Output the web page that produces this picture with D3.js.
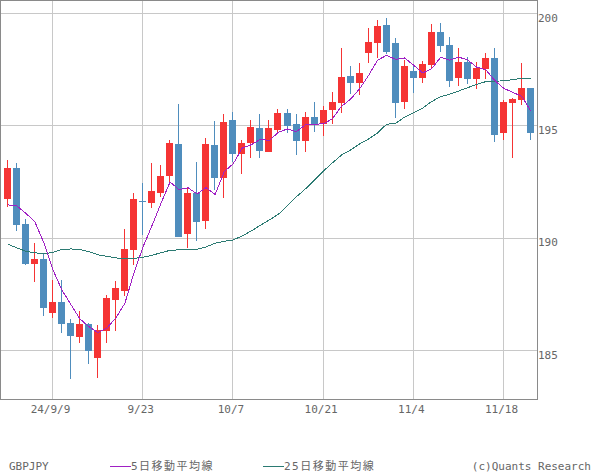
<!DOCTYPE html>
<html><head><meta charset="utf-8">
<script src="https://cdn.jsdelivr.net/npm/d3@7"></script>
<style>body{margin:0;background:#fff}svg{display:block}</style>
</head><body><svg id="c" width="600" height="475"></svg>
<script>
const dates = ["9/2","9/3","9/4","9/5","9/6","9/9","9/10","9/11","9/12","9/13","9/16","9/17","9/18","9/19","9/20","9/23","9/24","9/25","9/26","9/27","9/30",
"10/1","10/2","10/3","10/4","10/7","10/8","10/9","10/10","10/11","10/14","10/15","10/16","10/17","10/18","10/21","10/22","10/23","10/24","10/25","10/28","10/29","10/30","10/31",
"11/1","11/4","11/5","11/6","11/7","11/8","11/11","11/12","11/13","11/14","11/15","11/18","11/19","11/20","11/21"];
const open = [191.76,193.12,190.64,188.86,189.08,186.65,187.17,186.24,185.58,186.16,184.65,185.85,187.27,187.67,189.49,191.66,191.58,192.03,192.77,194.19,190.19,192.00,190.78,194.15,192.69,195.26,193.75,194.24,194.90,193.85,194.83,195.57,195.08,194.34,195.39,195.08,195.72,196.03,197.21,196.92,198.24,198.68,199.48,198.68,196.06,197.44,197.12,197.70,199.17,198.59,197.14,197.84,197.09,197.54,198.01,194.69,196.03,196.16,196.68];
const high = [193.48,193.33,190.86,189.79,189.30,188.15,188.15,186.41,186.76,186.24,186.12,187.48,188.10,190.41,192.00,192.44,193.35,193.26,194.37,195.97,192.22,193.39,194.44,195.21,195.54,195.61,194.37,195.26,195.52,195.26,195.75,195.75,195.52,195.61,196.06,195.88,196.50,198.46,197.66,197.79,199.35,199.70,199.79,198.90,197.92,197.66,197.88,199.52,199.57,198.95,198.46,198.06,197.84,198.24,198.46,196.15,196.24,197.79,196.68];
const low = [191.38,190.34,188.80,188.07,186.52,186.43,185.76,183.75,185.33,184.38,183.79,185.33,185.85,187.42,188.80,190.15,191.36,191.82,192.44,190.03,189.57,189.89,190.43,192.16,191.78,193.38,192.87,193.58,193.58,193.82,194.64,194.67,193.72,193.85,194.74,194.55,195.09,195.58,196.43,196.38,197.79,198.01,198.19,195.36,195.76,196.48,196.92,197.57,198.28,196.74,196.78,196.87,196.65,197.09,194.29,194.38,193.58,195.94,194.38];
const close = [193.12,190.60,188.86,189.08,186.87,187.17,186.20,185.63,186.20,185.00,185.92,187.35,187.78,189.52,191.75,191.64,192.10,192.77,194.24,190.07,192.01,190.74,194.19,192.69,195.17,193.76,194.24,194.95,193.89,194.90,195.57,195.00,194.34,195.39,195.04,195.70,196.06,197.17,196.92,197.35,198.72,199.44,198.28,196.01,197.66,197.12,197.75,199.17,198.56,197.00,197.84,197.09,197.57,198.01,194.60,196.06,196.20,196.68,194.69];
const ma5 = [191.48,191.44,191.11,190.74,189.80,188.60,187.70,187.05,186.41,186.06,185.80,186.00,186.45,187.11,188.46,189.61,190.56,191.56,192.50,192.16,192.24,191.97,192.25,191.94,192.96,193.31,194.01,194.16,194.40,194.35,194.71,194.86,194.74,195.04,195.07,195.09,195.31,195.87,196.18,196.64,197.24,197.92,198.14,197.96,198.02,197.70,197.36,197.54,198.05,197.92,198.06,197.93,197.61,197.50,197.02,196.67,196.49,196.31,195.65];
const ma25 = [189.73,189.57,189.42,189.35,189.30,189.37,189.50,189.52,189.50,189.40,189.26,189.19,189.12,189.09,189.10,189.15,189.24,189.35,189.46,189.48,189.51,189.51,189.61,189.78,189.86,189.92,190.10,190.32,190.57,190.81,191.06,191.44,191.84,192.19,192.59,192.99,193.35,193.70,193.92,194.19,194.41,194.68,195.07,195.11,195.39,195.59,195.79,196.08,196.30,196.41,196.55,196.70,196.84,196.97,196.99,197.00,197.06,197.11,197.11];
const xTickDates = ["9/9","9/23","10/7","10/21","11/4","11/18"];
const xTickLabels = ["24/9/9","9/23","10/7","10/21","11/4","11/18"];
const yTicks = [185,190,195,200];
const seriesNames = ["5日移動平均線","25日移動平均線"];
const symbol = "GBPJPY";
const credit = "(c)Quants Research";

const W = 600, H = 475;
const plot = {l:0, t:0, r:537, b:399};
const colors = {up:"#f53434", down:"#4f8dbd", ma5:"#a020c4", ma25:"#2b7a72", grid:"#c8c8c8", frame:"#8a8a8a", text:"#666"};
const font = "'DejaVu Sans Mono','Noto Sans CJK JP',monospace";

const svg = d3.select("#c");
const x = d3.scalePoint().domain(dates).range([7.4, 530.56]);
const y = d3.scaleLinear().domain([185, 200]).range([350.5, 13.5]);
const px = d => Math.floor(x(d)) + 0.5;
const py = v => Math.floor(y(v)) + 0.5;

// grid
const g = svg.append("g").attr("shape-rendering","crispEdges");
g.selectAll(".hg").data(yTicks).join("line")
  .attr("x1", plot.l).attr("x2", plot.r).attr("y1", py).attr("y2", py)
  .attr("stroke", colors.grid).attr("stroke-width", 1);
g.selectAll(".vg").data(xTickDates).join("line")
  .attr("x1", px).attr("x2", px).attr("y1", plot.t).attr("y2", plot.b)
  .attr("stroke", colors.grid).attr("stroke-width", 1);

// candles
const idx = d3.range(dates.length);
const cg = svg.append("g").attr("shape-rendering","crispEdges");
cg.selectAll(".wick").data(idx).join("line")
  .attr("x1", i => px(dates[i])).attr("x2", i => px(dates[i]))
  .attr("y1", i => Math.round(y(high[i]))).attr("y2", i => Math.round(y(low[i])))
  .attr("stroke", i => close[i] >= open[i] ? colors.up : colors.down).attr("stroke-width", 1);
cg.selectAll(".body").data(idx).join("rect")
  .attr("x", i => Math.floor(x(dates[i])) - 3)
  .attr("width", 7)
  .attr("y", i => Math.round(y(Math.max(open[i], close[i]))))
  .attr("height", i => Math.max(1, Math.round(y(Math.min(open[i], close[i]))) - Math.round(y(Math.max(open[i], close[i])))))
  .attr("fill", i => close[i] >= open[i] ? colors.up : colors.down);

// moving averages
const line = arr => d3.line().x(i => x(dates[i]) + 0.3).y(i => y(arr[i]))(idx);
svg.append("path").attr("d", line(ma25)).attr("fill","none").attr("stroke", colors.ma25).attr("stroke-width",1).attr("shape-rendering","crispEdges");
svg.append("path").attr("d", line(ma5)).attr("fill","none").attr("stroke", colors.ma5).attr("stroke-width",1).attr("shape-rendering","crispEdges");

// frame
svg.append("rect").attr("x", plot.l + 0.5).attr("y", plot.t + 0.5)
  .attr("width", plot.r - plot.l).attr("height", plot.b - plot.t)
  .attr("fill","none").attr("stroke", colors.frame).attr("shape-rendering","crispEdges");

// y axis labels
const yAxis = d3.axisRight(y).tickValues(yTicks).tickSize(0).tickPadding(0).tickFormat(d3.format("d"));
const ya = svg.append("g").attr("transform", `translate(${plot.r + 1},0)`).call(yAxis);
ya.select(".domain").remove();
ya.selectAll("text").attr("dy", null).attr("y", 7.5).attr("x", 0)
  .attr("fill", colors.text).style("font-family", font).style("font-size","11px");

// x axis labels
svg.append("g").selectAll("text").data(xTickDates).join("text")
  .attr("x", d => x(d) - 2).attr("y", 413).attr("text-anchor","middle")
  .attr("fill", colors.text).style("font-family", font).style("font-size","11px")
  .text((d, i) => xTickLabels[i]);

// legend
const lg = svg.append("g").style("font-family", font).style("font-size","11px").attr("fill", colors.text);
lg.append("text").attr("x", 9).attr("y", 470).text(symbol);
const legendItems = [{x:110, c:colors.ma5, t:seriesNames[0]}, {x:263, c:colors.ma25, t:seriesNames[1]}];
legendItems.forEach(it => {
  lg.append("line").attr("x1", it.x).attr("x2", it.x + 21).attr("y1", 466.5).attr("y2", 466.5)
    .attr("stroke", it.c).attr("stroke-width", 1).attr("shape-rendering","crispEdges");
  lg.append("text").attr("x", it.x + 21).attr("y", 470).style("letter-spacing","1.5px").text(it.t);
});
lg.append("text").attr("x", 591).attr("y", 470).attr("text-anchor","end").text(credit);
</script></body></html>
